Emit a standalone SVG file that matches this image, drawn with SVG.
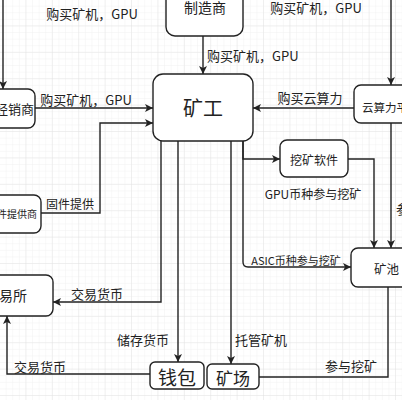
<svg xmlns="http://www.w3.org/2000/svg" width="402" height="400" viewBox="0 0 402 400">
<defs>
<pattern id="gmin" width="6.6" height="6.6" patternUnits="userSpaceOnUse">
<path d="M6.6 0V6.6M0 6.6H6.6" fill="none" stroke="#efefef" stroke-width="0.8"/>
</pattern>
<pattern id="gmaj" width="26.4" height="26.4" patternUnits="userSpaceOnUse">
<path d="M26.4 0V26.4M0 26.4H26.4" fill="none" stroke="#e2e2e2" stroke-width="0.8"/>
</pattern>
<marker id="ah" viewBox="0 0 10 10" refX="10" refY="5" markerWidth="8" markerHeight="8" markerUnits="userSpaceOnUse" orient="auto">
<path d="M0 0L10 5L0 10L2.5 5Z" fill="#222"/>
</marker>
</defs>
<style>
.box{fill:#fff;stroke:#222;stroke-width:1.4}
.t{font-family:"Noto Sans CJK SC","Liberation Sans",sans-serif;fill:#222;dominant-baseline:central}
.lbl{font-family:"Noto Sans CJK SC","Liberation Sans",sans-serif;fill:#222;font-size:13px;dominant-baseline:central}
.e{fill:none;stroke:#222;stroke-width:1.4}
.a{marker-end:url(#ah)}
</style>
<rect width="402" height="400" fill="#fff"/>
<rect width="402" height="400" fill="url(#gmin)"/>
<rect width="402" height="400" fill="url(#gmaj)"/>

<g id="connectors">
<path class="e a" d="M3 -5V89"/>
<path class="e a" d="M203 36V74"/>
<path class="e a" d="M35 108H153"/>
<path class="e a" d="M41 213H100V123H153"/>
<path class="e a" d="M354 108H253"/>
<path class="e a" d="M391 -5V85"/>
<path class="e a" d="M391 123V248"/>
<path class="e a" d="M243 141V159H280"/>
<path class="e a" d="M348 159H374V248"/>
<path class="e a" d="M243 141V262Q243 267 248 267H351"/>
<path class="e a" d="M161 141V302H53"/>
<path class="e a" d="M178 141V362"/>
<path class="e a" d="M150 374H7V316"/>
<path class="e a" d="M231 141V364"/>
<path class="e" d="M259 377H388V287"/>

<text class="lbl" x="92" y="13" text-anchor="middle">购买矿机，GPU</text>
<text class="lbl" x="207" y="55">购买矿机，GPU</text>
<text class="lbl" x="86" y="99" text-anchor="middle">购买矿机，GPU</text>
<text class="lbl" x="46" y="203" style="font-size:12px">固件提供</text>
<text class="lbl" x="310" y="97" text-anchor="middle">购买云算力</text>
<text class="lbl" x="316" y="7" text-anchor="middle">购买矿机，GPU</text>
<text class="lbl" x="396" y="208">参与挖矿</text>
<text class="lbl" x="313" y="193" text-anchor="middle" style="font-size:12px">GPU币种参与挖矿</text>
<text class="lbl" x="296" y="260" text-anchor="middle" style="font-size:11px">ASIC币种参与挖矿</text>
<text class="lbl" x="97" y="293" text-anchor="middle">交易货币</text>
<text class="lbl" x="143" y="339" text-anchor="middle">储存货币</text>
<text class="lbl" x="40" y="366" text-anchor="middle">交易货币</text>
<text class="lbl" x="261" y="339" text-anchor="middle">托管矿机</text>
<text class="lbl" x="351" y="365" text-anchor="middle">参与挖矿</text>
</g>

<g id="manufacturer">
<rect class="box" x="166" y="-25" width="77" height="61" rx="9"/>
<text class="t" x="205" y="7" text-anchor="middle" font-size="14">制造商</text>
</g>
<g id="miner">
<rect class="box" x="153" y="74" width="100" height="67" rx="10"/>
<text class="t" x="203" y="107" text-anchor="middle" font-size="20">矿工</text>
</g>
<g id="distributor">
<rect class="box" x="-45" y="89" width="80" height="39" rx="7"/>
<text class="t" x="34" y="108" text-anchor="end" font-size="13">经销商</text>
</g>
<g id="cloud">
<rect class="box" x="354" y="85" width="90" height="38" rx="7"/>
<text class="t" x="362" y="107" font-size="11.5">云算力平台</text>
</g>
<g id="software">
<rect class="box" x="280" y="140" width="68" height="37" rx="7"/>
<text class="t" x="314" y="159" text-anchor="middle" font-size="12">挖矿软件</text>
</g>
<g id="firmware">
<rect class="box" x="-50" y="195" width="91" height="38" rx="7"/>
<text class="t" x="37" y="213" text-anchor="end" font-size="10">固件提供商</text>
</g>
<g id="pool">
<rect class="box" x="351" y="248" width="80" height="39" rx="7"/>
<text class="t" x="374" y="268" font-size="12.5">矿池</text>
</g>
<g id="exchange">
<rect class="box" x="-45" y="275" width="98" height="41" rx="7"/>
<text class="t" x="27" y="295" text-anchor="end" font-size="14">交易所</text>
</g>
<g id="wallet">
<rect class="box" x="150" y="362" width="54" height="27" rx="5"/>
<text class="t" x="177" y="376" text-anchor="middle" font-size="19">钱包</text>
</g>
<g id="farm">
<rect class="box" x="207" y="364" width="52" height="25" rx="5"/>
<text class="t" x="233" y="377" text-anchor="middle" font-size="17">矿场</text>
</g>
</svg>
